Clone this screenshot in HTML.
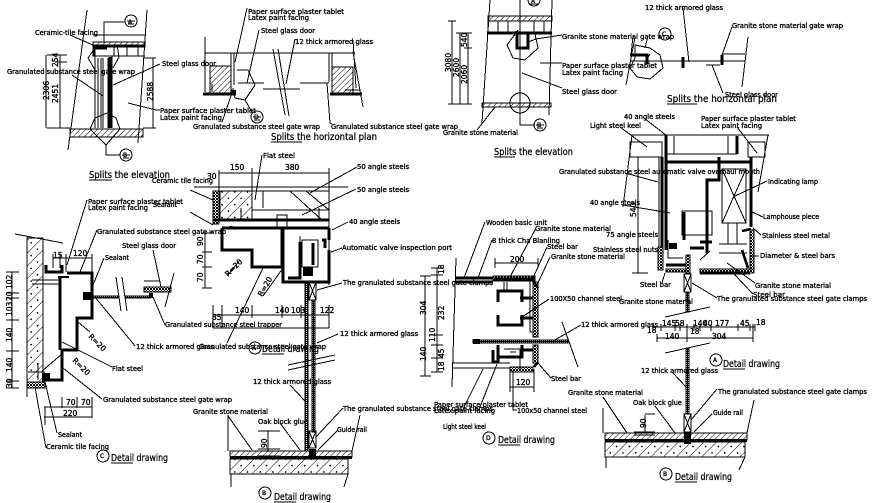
<!DOCTYPE html>
<html><head><meta charset="utf-8"><style>
html,body{margin:0;padding:0;background:#fff;width:872px;height:503px;overflow:hidden}
svg{display:block}
text{font-family:"DejaVu Sans","Liberation Sans",sans-serif;font-size:7px;fill:#000;stroke:#000;stroke-width:.35}
.t{font-size:9.5px;stroke-width:.25}
.d{font-size:7.5px}
.n,.n path,.n line,.n rect,.n circle{fill:none;stroke:#000;stroke-width:1}
.b path{fill:none;stroke:#000;stroke-width:2.6}
.f{stroke:#000;stroke-width:1}
</style></head><body>
<svg width="872" height="503" viewBox="0 0 872 503" xmlns="http://www.w3.org/2000/svg" shape-rendering="crispEdges">
<defs>
<pattern id="h" width="4" height="4" patternUnits="userSpaceOnUse" patternTransform="rotate(45)"><rect width="4" height="4" fill="#fff"/><line x1="0" y1="0" x2="0" y2="4" stroke="#000" stroke-width="1.2"/></pattern>
<pattern id="w" width="9" height="9" patternUnits="userSpaceOnUse" patternTransform="rotate(45)"><rect width="9" height="9" fill="#fff"/><line x1="0" y1="0" x2="0" y2="9" stroke="#000" stroke-width="1.2"/><rect x="4" y="5" width="1.5" height="1.5" fill="#000"/></pattern>
<pattern id="s" width="3" height="3" patternUnits="userSpaceOnUse"><rect width="3" height="3" fill="#fff"/><rect width="2" height="2" fill="#000"/><rect x="2" y="2" width="1" height="1" fill="#000"/></pattern>
<pattern id="g" width="2" height="2" patternUnits="userSpaceOnUse"><rect width="2" height="2" fill="#000"/><rect width="1" height="1" fill="#fff"/></pattern>
</defs>

<!-- hatched fills -->
<g class="f">
<rect x="93" y="42" width="52" height="5" fill="url(#h)"/>
<rect x="70" y="129" width="73" height="8" fill="url(#h)"/>
<rect x="210" y="66" width="21" height="27" fill="url(#h)"/>
<rect x="332" y="67" width="21" height="26" fill="url(#h)"/>
<rect x="488" y="16" width="64" height="5" fill="url(#h)"/>
<rect x="482" y="103" width="69" height="4" fill="url(#h)"/>
<rect x="27" y="238" width="16" height="145" fill="url(#w)"/>
<rect x="27" y="382" width="18" height="6" fill="url(#s)"/>
<rect x="144" y="287" width="27" height="5" fill="url(#s)"/>
<rect x="220" y="191" width="32" height="29" fill="url(#w)"/>
<rect x="213" y="191" width="6" height="33" fill="url(#s)"/>
<rect x="230" y="451" width="122" height="6" fill="url(#h)"/>
<rect x="230" y="459" width="118" height="15" fill="url(#w)"/>
<rect x="605" y="433" width="142" height="7" fill="url(#h)"/>
<rect x="605" y="442" width="140" height="15" fill="url(#w)"/>
<rect x="493" y="276" width="42" height="5" fill="url(#s)"/>
<rect x="533" y="282" width="5" height="55" fill="url(#s)"/>
<rect x="533" y="345" width="5" height="18" fill="url(#s)"/>
<rect x="510" y="367" width="23" height="5" fill="url(#s)"/>
<rect x="750" y="230" width="4" height="40" fill="url(#s)"/>
<rect x="658" y="247" width="5" height="23" fill="url(#s)"/>
<rect x="700" y="269" width="54" height="4" fill="url(#s)"/>
<rect x="666" y="269" width="20" height="3" fill="url(#s)"/>
<rect x="686" y="255" width="4" height="18" fill="url(#s)"/>
<rect x="686" y="292" width="3" height="20" fill="url(#g)"/>
<rect x="686" y="348" width="3" height="66" fill="url(#g)"/>
<rect x="305" y="282" width="3" height="169" fill="url(#g)"/>
<rect x="312" y="300" width="3" height="132" fill="url(#g)"/>
<rect x="93" y="296" width="25" height="2" fill="url(#g)"/>
<rect x="125" y="296" width="25" height="2" fill="url(#g)"/>
<rect x="473" y="340" width="95" height="3" fill="url(#g)"/>
</g>

<!-- thin lines -->
<g class="n">
<!-- D1 elevation -->
<path d="M87 10L68 150M147 10L138 143M93 35H145M93 42V56H145M127 47V56M138 47V56M114 47V56M93 47H145"/>
<path d="M95 56V128M98 58V128M101 58V128M103 58V128M108 58V128M112 56V128M108 56H145M125 22H104V42"/>
<circle cx="131" cy="21" r="6"/><path d="M127 21H135M128 24H134"/>
<path d="M97 45L88 58L95 70M117 45L119 57L113 68M95 118L90 129L106 145L120 129L116 118L107 113Z"/>
<path d="M106 145V155H120"/><circle cx="126" cy="155" r="6"/><path d="M122 155H130M123 158H129"/>
<path d="M46 55V128M60 55V128M153 58V128M47 55H67M55 62H67M47 128H70M143 58H156M143 128H156"/>
<path d="M70 35L95 46M72 75L103 96M160 64L113 85M128 103L156 110H160"/>
<!-- D2 plan -->
<path d="M205 53H355M205 37V92M273 49L285 115M278 49L289 116M231 53V85M234 53V85M329 53V82M332 53V82"/>
<path d="M238 83H263M300 83H329M263 89H300M263 83H264M353 40L356 88M353 52L363 107M212 84V92M345 90H360"/>
<path d="M237 70L248 70L255 85L245 100L235 98L233 88M247 8L235 62M259 30L247 83M295 39L286 84M232 93L222 122M327 83L330 123L332 124"/>
<circle cx="257" cy="117" r="6"/><path d="M253 117H261M254 120H260M245 100L252 112"/>
<!-- D3 elevation -->
<path d="M490 0L482 123M552 0L549 115M520 0V115M488 21V32H552M498 21V32M508 21V32M534 21V32M544 21V32"/>
<path d="M452 21V104M460 33V104M468 33V104M448 21H456M456 33H472M464 48H472M448 104H472"/>
<path d="M518 30L507 45L513 58L525 60L538 48L535 34"/><circle cx="520" cy="103" r="10"/>
<path d="M520 113V125H535"/><circle cx="540" cy="125" r="6"/><path d="M536 125H544M537 128H543"/>
<circle cx="534" cy="0" r="6"/><path d="M530 4H538"/>
<path d="M562 35L536 39L528 42M540 63H562M522 73L562 88M495 107L477 130"/>
<!-- D4 plan -->
<path d="M635 37L626 85M748 37L742 87M630 61H745M722 54H745M722 61H745M645 62L650 54M683 8L689 62M732 27L722 55M712 65L723 93M706 65H720"/>
<path d="M635 58L635 45L650 48L660 55L663 68L650 79L637 77L630 68Z"/><circle cx="665" cy="34" r="6"/>
<path d="M633 36L631 55M648 36L645 48"/>
<!-- C detail -->
<path d="M15 234L63 243M27 237V397M12 272V388M6 272H19M6 293H19M6 298H19M6 320H19M6 351H19M6 381H19M6 388H19"/>
<path d="M32 280H60M32 284H60M28 372H45M116 277L121 311M122 277L127 311M174 273L165 307M144 281H160M53 258H92M66 254V272M92 254V275M53 254V268M60 254V268"/>
<path d="M42 371L62 354M38 363V380M62 397V408M77 397V408M92 397V418M44 407H92M44 417H92M45 407V425"/>
<path d="M87 200L67 265M97 230L80 272M104 258L93 285M153 250L161 287M165 325L153 297M135 346L95 297M112 367L62 342M102 399L63 368M57 433L45 382M46 448L35 387M78 322L90 332M62 350L78 350"/>
<circle cx="103" cy="456" r="6"/>
<!-- A detail-top -->
<path d="M219 173H329M219 170V191M252 168V191M329 168V285M194 187H348M252 191H329M252 210H329M263 191V208M290 191L322 220M306 191L329 210M277 215H287V227H277ZM319 208V220M241 208V220"/>
<path d="M262 155L255 200M190 190L213 200M190 212L213 225M357 167L310 193M356 189L302 215M348 222L332 230M342 248L331 252M342 283L317 290M338 334L317 343M263 268L227 343M283 268L263 296M240 260L228 275"/>
<path d="M202 233H212M202 252H212M202 267H212M202 288H212M205 233V288M213 305V328M222 305V328M252 305V318M282 305V318M301 305V318M329 305V328M213 315H329M213 328H329M300 236V276M302 240H318V267H302Z"/>
<path d="M288 365L335 355M288 370L335 360"/>
<!-- B detail center -->
<path d="M228 415V451M231 474V487M360 415L352 451M348 474L344 487M290 385L305 401M228 416L252 450M280 423L300 450M343 408L316 437M338 430L318 450M268 431V452M258 431H280M258 449H280M258 456H280M230 451H352"/>
<circle cx="265" cy="493" r="6"/><circle cx="255" cy="348" r="6"/>
<!-- D detail -->
<path d="M456 258L452 387M495 258V268M538 258V268M495 263H538M510 369V392M534 369V392M510 387H534M437 268V372M431 268H443M431 275H443M431 335H443M431 345H443M431 358H443M431 372H443M425 276V376M420 276H431M420 376H431M562 322L578 367"/>
<path d="M453 363H510M453 368H510M504 349H520V370M510 352H516M530 281V332H534M504 282V290H507V282M485 222L464 278M492 240L478 278M536 228L510 277M547 247L533 278M550 257L538 283M549 299L522 317M581 325L553 341M551 378L538 363M497 364L480 407M483 369L464 407M513 370V410H517"/>
<circle cx="489" cy="438" r="6"/>
<!-- A section right -->
<path d="M630 135H769M632 135L623 207M768 135L758 192M630 142H662V157H630ZM748 142H765V157H748ZM674 136V154M728 136V154M666 154H737M659 157V247M722 169H746V223H722ZM722 169L746 223M746 169L722 223M682 211H712V235H682ZM728 223V244H737V223M719 244H747M719 253H747"/>
<path d="M638 157V273M632 157H650M632 273H648M653 327H755M657 338H753M657 334V342M687 324V342M753 324V342M653 324V331M661 324V331M675 324V331M680 324V331M694 324V331M700 324V331M711 324V331M738 324V331M750 324V331M755 324V331M665 317L710 307M665 353L710 343"/>
<path d="M620 127L647 147M645 119L666 135M737 127L757 153M625 173L658 182M623 205L670 213M767 181L733 197M763 217L752 212M761 235L753 228M759 256L752 256M755 283L727 263M753 294L733 273M717 298L692 283M662 283L665 273M668 240V258L683 258M710 251L700 260"/>
<path d="M673 373L687 388M717 389L691 420M603 397L627 433M655 406L675 433M712 414L694 432M603 408V433M606 457V468M754 400L747 433M745 457L739 470M645 415V433M634 432H655M634 435H655M645 414H655"/>
<circle cx="716" cy="360" r="6"/><circle cx="666" cy="474" r="6"/>
<!-- clamp boxes -->
<rect x="684" y="274" width="7" height="18"/><path d="M684 274L691 292M691 274L684 292"/>
<rect x="684" y="414" width="7" height="18"/><path d="M684 414L691 432M691 414L684 432"/>
<rect x="309" y="282" width="7" height="18"/><path d="M309 282L316 300M316 282L309 300"/>
<rect x="309" y="431" width="7" height="17"/><path d="M309 431L316 448M316 431L309 448"/>
</g>

<!-- thick lines -->
<g class="b">
<path d="M94 56V48H107M93 46H145"/><path d="M110 57V128"/>
<path d="M203 94H236M330 94H362M233 90L231 93"/>
<path d="M487 33H552M517 31V48H528V32"/>
<path d="M630 55H647V64M722 65V55M683 57V68"/>
<path d="M67 273H92V318H77V350H62V380H43M60 278V350M46 265V272H62V265"/>
<path d="M214 220H329M222 228H329M222 228V250H252V267H282V228M283 228V282H329V250M329 228V240M322 240H325V248M288 278H300V242M313 243V265"/>
<path d="M455 278H493M455 282H493M535 279H494M498 302V291H522V302M498 315V325H522V315M520 298H533M520 318H533M498 345V362H493V350M498 357H522V345M520 350H533M534 282L538 288M534 367L538 362"/>
<path d="M666 135V250M737 136V154M666 162H751M751 157V227M662 157V247M707 253V180H719V157M666 265H686M700 273H750M684 212V240M704 248H690M700 242H712M742 231L751 229M742 250L748 268"/>
<path d="M231 228V226M230 457.5H352M605 440.5H747"/>
</g>
<g>
<rect x="83" y="292" width="9" height="8"/><rect x="42" y="373" width="8" height="8"/><rect x="58" y="276" width="11" height="2"/><rect x="149" y="293" width="4" height="5"/>
<rect x="473" y="339" width="7" height="5"/><rect x="303" y="267" width="10" height="9"/><rect x="669" y="243" width="8" height="6"/>
<rect x="684" y="433" width="7" height="11"/><rect x="309" y="449" width="7" height="8"/><rect x="232" y="90" width="4" height="4"/>
</g>

<!-- labels -->
<g>
<text x="35" y="35" textLength="63" lengthAdjust="spacingAndGlyphs">Ceramic-tile facing</text>
<text x="7" y="74" textLength="128" lengthAdjust="spacingAndGlyphs">Granulated substance steel gate wrap</text>
<text x="162" y="66" textLength="54" lengthAdjust="spacingAndGlyphs">Steel glass door</text>
<text x="160" y="113" textLength="96" lengthAdjust="spacingAndGlyphs">Paper surface plaster tablet</text>
<text x="160" y="120" textLength="62" lengthAdjust="spacingAndGlyphs">Latex paint facing</text>
<text x="193" y="129" textLength="127" lengthAdjust="spacingAndGlyphs">Granulated substance steel gate wrap</text>
<text x="331" y="129" textLength="127" lengthAdjust="spacingAndGlyphs">Granulated substance steel gate wrap</text>
<text x="248" y="14" textLength="96" lengthAdjust="spacingAndGlyphs">Paper surface plaster tablet</text>
<text x="248" y="20" textLength="61" lengthAdjust="spacingAndGlyphs">Latex paint facing</text>
<text x="261" y="33" textLength="54" lengthAdjust="spacingAndGlyphs">Steel glass door</text>
<text x="295" y="44" textLength="78" lengthAdjust="spacingAndGlyphs">12 thick armored glass</text>
<text x="443" y="135" textLength="75" lengthAdjust="spacingAndGlyphs">Granite stone material</text>
<text x="562" y="39" textLength="112" lengthAdjust="spacingAndGlyphs">Granite stone material gate wrap</text>
<text x="562" y="68" textLength="95" lengthAdjust="spacingAndGlyphs">Paper surface plaster tablet</text>
<text x="562" y="75" textLength="61" lengthAdjust="spacingAndGlyphs">Latex paint facing</text>
<text x="562" y="94" textLength="55" lengthAdjust="spacingAndGlyphs">Steel glass door</text>
<text x="645" y="10" textLength="78" lengthAdjust="spacingAndGlyphs">12 thick armored glass</text>
<text x="732" y="28" textLength="111" lengthAdjust="spacingAndGlyphs">Granite stone material gate wrap</text>
<text x="725" y="97" textLength="53" lengthAdjust="spacingAndGlyphs">Steel glass door</text>
<text x="152" y="183" textLength="61" lengthAdjust="spacingAndGlyphs">Ceramic tile facing</text>
<text x="88" y="204" textLength="95" lengthAdjust="spacingAndGlyphs">Paper surface plaster tablet</text>
<text x="88" y="210" textLength="60" lengthAdjust="spacingAndGlyphs">Latex paint facing</text>
<text x="153" y="207" textLength="24" lengthAdjust="spacingAndGlyphs">Sealant</text>
<text x="97" y="234" textLength="129" lengthAdjust="spacingAndGlyphs">Granulated substance steel gate wrap</text>
<text x="122" y="248" textLength="54" lengthAdjust="spacingAndGlyphs">Steel glass door</text>
<text x="105" y="260" textLength="24" lengthAdjust="spacingAndGlyphs">Sealant</text>
<text x="165" y="327" textLength="117" lengthAdjust="spacingAndGlyphs">Granulated substance steel trapper</text>
<text x="136" y="349" textLength="78" lengthAdjust="spacingAndGlyphs">12 thick armored glass</text>
<text x="199" y="349" textLength="127" lengthAdjust="spacingAndGlyphs">Granulated substance steel gate wrap</text>
<text x="112" y="371" textLength="31" lengthAdjust="spacingAndGlyphs">Flat steel</text>
<text x="103" y="402" textLength="129" lengthAdjust="spacingAndGlyphs">Granulated substance steel gate wrap</text>
<text x="193" y="414" textLength="75" lengthAdjust="spacingAndGlyphs">Granite stone material</text>
<text x="58" y="437" textLength="24" lengthAdjust="spacingAndGlyphs">Sealant</text>
<text x="46" y="449" textLength="63" lengthAdjust="spacingAndGlyphs">Ceramic tile facing</text>
<text x="263" y="158" textLength="32" lengthAdjust="spacingAndGlyphs">Flat steel</text>
<text x="357" y="169" textLength="52" lengthAdjust="spacingAndGlyphs">50 angle steels</text>
<text x="357" y="192" textLength="52" lengthAdjust="spacingAndGlyphs">50 angle steels</text>
<text x="349" y="224" textLength="51" lengthAdjust="spacingAndGlyphs">40 angle steels</text>
<text x="342" y="250" textLength="110" lengthAdjust="spacingAndGlyphs">Automatic valve inspection port</text>
<text x="343" y="285" textLength="150" lengthAdjust="spacingAndGlyphs">The granulated substance steel gate clamps</text>
<text x="340" y="336" textLength="78" lengthAdjust="spacingAndGlyphs">12 thick armored glass</text>
<text x="253" y="384" textLength="78" lengthAdjust="spacingAndGlyphs">12 thick armored glass</text>
<text x="258" y="424" textLength="50" lengthAdjust="spacingAndGlyphs">Oak block glue</text>
<text x="343" y="411" textLength="150" lengthAdjust="spacingAndGlyphs">The granulated substance steel gate clamps</text>
<text x="337" y="432" textLength="30" lengthAdjust="spacingAndGlyphs">Guide rail</text>
<text x="486" y="225" textLength="61" lengthAdjust="spacingAndGlyphs">Wooden basic unit</text>
<text x="535" y="231" textLength="76" lengthAdjust="spacingAndGlyphs">Granite stone material</text>
<text x="492" y="243" textLength="68" lengthAdjust="spacingAndGlyphs">8 thick Cha Blanling</text>
<text x="547" y="249" textLength="31" lengthAdjust="spacingAndGlyphs">Steel bar</text>
<text x="551" y="259" textLength="74" lengthAdjust="spacingAndGlyphs">Granite stone material</text>
<text x="550" y="301" textLength="72" lengthAdjust="spacingAndGlyphs">100X50 channel steel</text>
<text x="581" y="327" textLength="77" lengthAdjust="spacingAndGlyphs">12 thick armored glass</text>
<text x="551" y="381" textLength="30" lengthAdjust="spacingAndGlyphs">Steel bar</text>
<text x="434" y="407" textLength="94" lengthAdjust="spacingAndGlyphs">Paper surface plaster tablet</text>
<text x="434" y="413" textLength="61" lengthAdjust="spacingAndGlyphs">Latex paint facing</text>
<text x="517" y="413" textLength="70" lengthAdjust="spacingAndGlyphs">100x50 channel steel</text>
<text x="443" y="429" textLength="43" lengthAdjust="spacingAndGlyphs">Light steel keel</text>
<text x="624" y="119" textLength="51" lengthAdjust="spacingAndGlyphs">40 angle steels</text>
<text x="701" y="121" textLength="95" lengthAdjust="spacingAndGlyphs">Paper surface plaster tablet</text>
<text x="701" y="128" textLength="61" lengthAdjust="spacingAndGlyphs">Latex paint facing</text>
<text x="590" y="128" textLength="51" lengthAdjust="spacingAndGlyphs">Light steel keel</text>
<text x="559" y="174" textLength="201" lengthAdjust="spacingAndGlyphs">Granulated substance steel automatic valve overhaul mouth</text>
<text x="768" y="184" textLength="50" lengthAdjust="spacingAndGlyphs">Indicating lamp</text>
<text x="590" y="205" textLength="50" lengthAdjust="spacingAndGlyphs">40 angle steels</text>
<text x="763" y="219" textLength="56" lengthAdjust="spacingAndGlyphs">Lamphouse piece</text>
<text x="606" y="237" textLength="52" lengthAdjust="spacingAndGlyphs">75 angle steels</text>
<text x="593" y="252" textLength="65" lengthAdjust="spacingAndGlyphs">Stainless steel nuts</text>
<text x="762" y="238" textLength="68" lengthAdjust="spacingAndGlyphs">Stainless steel metal</text>
<text x="760" y="258" textLength="75" lengthAdjust="spacingAndGlyphs">Diameter &amp; steel bars</text>
<text x="640" y="287" textLength="31" lengthAdjust="spacingAndGlyphs">Steel bar</text>
<text x="755" y="288" textLength="76" lengthAdjust="spacingAndGlyphs">Granite stone material</text>
<text x="753" y="297" textLength="32" lengthAdjust="spacingAndGlyphs">Steel bar</text>
<text x="619" y="304" textLength="74" lengthAdjust="spacingAndGlyphs">Granite stone material</text>
<text x="717" y="301" textLength="150" lengthAdjust="spacingAndGlyphs">The granulated substance steel gate clamps</text>
<text x="641" y="373" textLength="77" lengthAdjust="spacingAndGlyphs">12 thick armored glass</text>
<text x="718" y="394" textLength="149" lengthAdjust="spacingAndGlyphs">The granulated substance steel gate clamps</text>
<text x="568" y="395" textLength="75" lengthAdjust="spacingAndGlyphs">Granite stone material</text>
<text x="633" y="405" textLength="49" lengthAdjust="spacingAndGlyphs">Oak block glue</text>
<text x="713" y="415" textLength="30" lengthAdjust="spacingAndGlyphs">Guide rail</text>
</g>

<!-- titles -->
<g>
<text class="t" x="89" y="178" textLength="81" lengthAdjust="spacingAndGlyphs">Splits the elevation</text>
<text class="t" x="271" y="140" textLength="106" lengthAdjust="spacingAndGlyphs">Splits the horizontal plan</text>
<text class="t" x="494" y="155" textLength="79" lengthAdjust="spacingAndGlyphs">Splits the elevation</text>
<text class="t" x="667" y="102" textLength="110" lengthAdjust="spacingAndGlyphs">Splits the horizontal plan</text>
<text class="t" x="111" y="461" textLength="57" lengthAdjust="spacingAndGlyphs">Detail drawing</text>
<text class="t" x="262" y="352" textLength="57" lengthAdjust="spacingAndGlyphs">Detail drawing</text>
<text class="t" x="274" y="500" textLength="57" lengthAdjust="spacingAndGlyphs">Detail drawing</text>
<text class="t" x="498" y="443" textLength="57" lengthAdjust="spacingAndGlyphs">Detail drawing</text>
<text class="t" x="723" y="367" textLength="57" lengthAdjust="spacingAndGlyphs">Detail drawing</text>
<text class="t" x="675" y="480" textLength="57" lengthAdjust="spacingAndGlyphs">Detail drawing</text>
</g>
<g class="n">
<path d="M89 180H112M271 142H302M494 157H515M667 104H697M111 463H133M262 354H284M274 502H296M498 445H520M723 369H745M675 482H697"/>
</g>

<!-- dimensions -->
<g>
<text class="d" x="230" y="170">150</text><text class="d" x="285" y="170">380</text>
<text class="d" x="235" y="313">140</text><text class="d" x="275" y="313">140</text><text class="d" x="291" y="313">103</text><text class="d" x="320" y="313">122</text>
<text class="d" x="212" y="320">35</text><text class="d" x="207" y="179">30</text>
<text class="d" x="53" y="258">15</text><text class="d" x="73" y="256">120</text>
<text class="d" x="66" y="405">70</text><text class="d" x="81" y="405">70</text><text class="d" x="63" y="416">220</text>
<text class="d" x="510" y="262">200</text><text class="d" x="516" y="385">120</text>
<text class="d" x="665" y="339">140</text><text class="d" x="712" y="339">304</text>
<text class="d" x="662" y="326">145</text><text class="d" x="675" y="326">58</text><text class="d" x="693" y="326">140</text><text class="d" x="703" y="326">40</text><text class="d" x="715" y="326">177</text><text class="d" x="740" y="326">45</text><text class="d" x="756" y="325">18</text><text class="d" x="647" y="333">18</text><text class="d" x="690" y="334">18</text>
<text class="d" transform="translate(49,100) rotate(-90)">2306</text>
<text class="d" transform="translate(58,103) rotate(-90)">2451</text>
<text class="d" transform="translate(58,67) rotate(-90)">254</text>
<text class="d" transform="translate(153,101) rotate(-90)">2588</text>
<text class="d" transform="translate(451,72) rotate(-90)">3080</text>
<text class="d" transform="translate(459,77) rotate(-90)">2600</text>
<text class="d" transform="translate(467,84) rotate(-90)">2060</text>
<text class="d" transform="translate(467,47) rotate(-90)">540</text>
<text class="d" transform="translate(12,289) rotate(-90)">102</text>
<text class="d" transform="translate(12,301) rotate(-90)">20</text>
<text class="d" transform="translate(12,316) rotate(-90)">103</text>
<text class="d" transform="translate(12,342) rotate(-90)">140</text>
<text class="d" transform="translate(12,372) rotate(-90)">140</text>
<text class="d" transform="translate(12,388) rotate(-90)">30</text>
<text class="d" transform="translate(203,246) rotate(-90)">90</text>
<text class="d" transform="translate(203,264) rotate(-90)">70</text>
<text class="d" transform="translate(203,282) rotate(-90)">70</text>
<text class="d" transform="translate(426,315) rotate(-90)">304</text>
<text class="d" transform="translate(426,361) rotate(-90)">140</text>
<text class="d" transform="translate(444,320) rotate(-90)">232</text>
<text class="d" transform="translate(444,274) rotate(-90)">18</text>
<text class="d" transform="translate(435,342) rotate(-90)">110</text>
<text class="d" transform="translate(444,358) rotate(-90)">45</text>
<text class="d" transform="translate(444,371) rotate(-90)">18</text>
<text class="d" transform="translate(636,217) rotate(-90)">540</text>
<text class="d" transform="translate(267,448) rotate(-90)">90</text>
<text class="d" transform="translate(646,428) rotate(-90)">90</text>
<text class="d" transform="translate(88,337) rotate(45)">R=20</text>
<text class="d" transform="translate(72,361) rotate(45)">R=20</text>
<text class="d" transform="translate(228,277) rotate(-45)">R=20</text>
<text class="d" transform="translate(262,297) rotate(-60)">R=20</text>
<text class="d" x="128" y="24" style="font-size:6px">A</text>
<text class="d" x="123" y="157" style="font-size:6px">B</text>
<text class="d" x="537" y="127" style="font-size:6px">B</text>
<text class="d" x="531" y="3" style="font-size:6px">A</text>
<text class="d" x="254" y="119" style="font-size:6px">D</text>
<text class="d" x="662" y="36" style="font-size:6px">C</text>
<text class="d" x="100" y="458" style="font-size:6px">C</text>
<text class="d" x="252" y="350" style="font-size:6px">A</text>
<text class="d" x="262" y="495" style="font-size:6px">B</text>
<text class="d" x="486" y="440" style="font-size:6px">D</text>
<text class="d" x="713" y="362" style="font-size:6px">A</text>
<text class="d" x="663" y="476" style="font-size:6px">B</text>
</g>
</svg>
</body></html>
